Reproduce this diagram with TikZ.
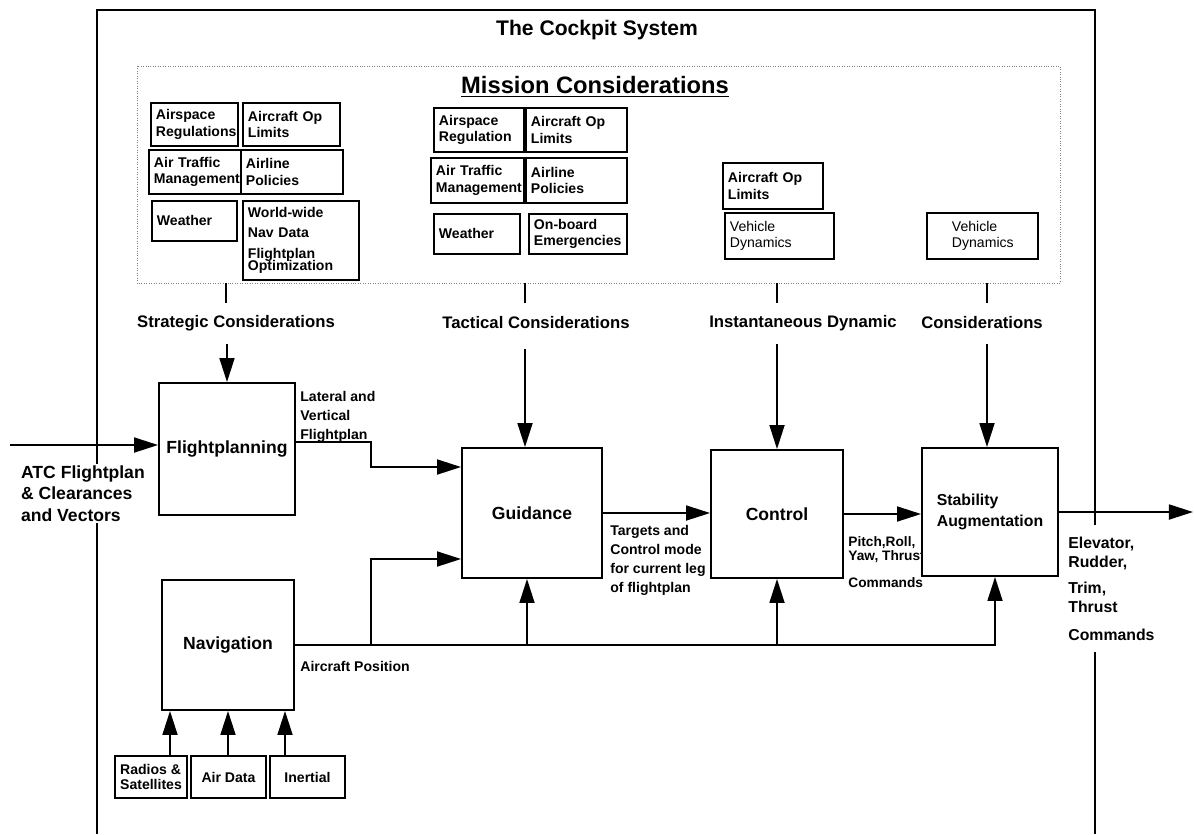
\documentclass[tikz,border=0pt]{standalone}
\usepackage{fontspec}
\setmainfont{Liberation Sans}
\usetikzlibrary{arrows.meta}

\begin{document}
\begin{tikzpicture}[
   blk/.style={draw, fill=white, line width=1.1pt, align=center, font=\bfseries\fontsize{10}{12}\selectfont},
   mcon/.style={draw, fill=white, line width=1.1pt, align=left, anchor=north west, inner xsep=0.1cm, inner ysep=0pt, font=\bfseries\fontsize{8}{9.5}\selectfont},
   sens/.style={draw, line width=1.1pt, minimum width=1.5cm, minimum height=0.84cm, inner xsep=0.05cm, font=\bfseries\fontsize{8}{9}\selectfont},
   lbl/.style={font=\bfseries\fontsize{9.5}{11}\selectfont},
   note/.style={align=left, anchor=north west, inner sep=0pt, font=\bfseries\fontsize{8}{10.8}\selectfont},
   arr/.style={line width=1pt, -{Triangle[length=0.48cm,width=0.3cm]}},
   wire/.style={line width=1pt}]
   \useasboundingbox (0,0) rectangle (23.88,-16.68);
   % outer frame
   \draw[wire] (1.94,-16.68) -- (1.94,-0.2) -- (21.9,-0.2) -- (21.9,-10.5);
   \draw[wire] (21.9,-13.04) -- (21.9,-16.68);
   \node[font=\bfseries\fontsize{12}{14}\selectfont] (title) at (11.94,-0.6) {The Cockpit System};
   % mission considerations
   \draw[gray, densely dotted] (2.74,-1.32) rectangle (21.2,-5.66);
   \node[font=\bfseries\fontsize{13.5}{16}\selectfont] (mission) at (11.9,-1.74) {\underline{Mission Considerations}};
   % strategic group
   \node[mcon, text width=1.54cm, minimum height=0.86cm] (sAirspace) at (3.0,-2.04) {Airspace\\Regulations};
   \node[mcon, text width=1.74cm, minimum height=0.86cm] (sOpLimits) at (4.84,-2.04) {Aircraft Op\\Limits};
   \node[mcon, text width=1.64cm, minimum height=0.88cm] (sTraffic) at (2.96,-2.98) {Air Traffic\\Management};
   \node[mcon, text width=1.84cm, minimum height=0.88cm] (sAirline) at (4.8,-2.98) {Airline\\Policies};
   \node[mcon, text width=1.5cm, minimum height=0.8cm] (sWeather) at (3.02,-4.0) {Weather};
   \node[mcon, text width=2.12cm, minimum height=1.58cm] (sNavData) at (4.84,-4.0) {World-wide\\[1.5pt]Nav Data\\[2.5pt]Flightplan\\[-2.5pt]Optimization};
   % tactical group
   \node[mcon, text width=1.6cm, minimum height=0.88cm] (tAirspace) at (8.66,-2.14) {Airspace\\Regulation};
   \node[mcon, text width=1.82cm, minimum height=0.88cm] (tOpLimits) at (10.5,-2.14) {Aircraft Op\\Limits};
   \node[mcon, text width=1.66cm, minimum height=0.9cm] (tTraffic) at (8.6,-3.14) {Air Traffic\\Management};
   \node[mcon, text width=1.82cm, minimum height=0.9cm] (tAirline) at (10.5,-3.14) {Airline\\Policies};
   \node[mcon, text width=1.52cm, minimum height=0.8cm] (tWeather) at (8.66,-4.26) {Weather};
   \node[mcon, text width=1.76cm, minimum height=0.8cm] (tEmergency) at (10.56,-4.26) {On-board\\Emergencies};
   % dynamic group
   \node[mcon, text width=1.8cm, minimum height=0.92cm] (dOpLimits) at (14.44,-3.24) {Aircraft Op\\Limits};
   \node[mcon, text width=1.98cm, minimum height=0.92cm, font=\fontsize{8}{9.5}\selectfont] (dVehicle) at (14.48,-4.24) {Vehicle\\Dynamics};
   \node[mcon, inner xsep=0.5cm, text width=1.22cm, minimum height=0.92cm, font=\fontsize{8}{9.5}\selectfont] (aVehicle) at (18.52,-4.24) {Vehicle\\Dynamics};
   % ticks under the box
   \foreach \x in {4.52,10.5,15.54,19.74}
   \draw[line width=1.2pt] (\x,-5.66) -- (\x,-6.06);
   \node[lbl] (strat) at (4.72,-6.46) {Strategic Considerations};
   \node[lbl] (tact) at (10.72,-6.46) {Tactical Considerations};
   \node[lbl] (inst) at (16.06,-6.46) {Instantaneous Dynamic};
   \node[lbl] (cons) at (19.64,-6.46) {Considerations};
   % main blocks
   \node[blk, minimum width=2.72cm, minimum height=2.64cm] (fp) at (4.54,-8.98) {Flightplanning};
   \node[blk, minimum width=2.8cm, minimum height=2.6cm] (guid) at (10.64,-10.26) {Guidance};
   \node[blk, minimum width=2.64cm, minimum height=2.56cm] (ctrl) at (15.54,-10.28) {Control};
   \node[note, font=\bfseries\fontsize{7.8}{6.5}\selectfont] (cmdtxt) at (16.96,-10.72) {Pitch,Roll,\\Yaw, Thrust\\[7.5pt]Commands};
   \node[blk, align=left, minimum width=2.72cm, minimum height=2.56cm, font=\bfseries\fontsize{9}{11.5}\selectfont] (stab) at (19.8,-10.24) {Stability\\Augmentation};
   \node[blk, minimum width=2.64cm, minimum height=2.6cm] (nav) at (4.56,-12.9) {Navigation};
   \node[sens, minimum width=1.44cm, align=left] (radio) at (3.02,-15.54) {Radios \&\\Satellites};
   \node[sens] (adata) at (4.57,-15.54) {Air Data};
   \node[sens] (iner) at (6.15,-15.54) {Inertial};
   % texts on the lines
   \node[note, fill=white, inner sep=1pt, font=\bfseries\fontsize{10}{12}\selectfont] (atc) at (0.38,-9.28) {ATC Flightplan\\\& Clearances\\and Vectors};
   \node[note] (latvert) at (6.0,-7.82) {Lateral and\\Vertical\\Flightplan};
   \node[note] (targets) at (12.2,-10.5) {Targets and\\Control mode\\for current leg\\of flightplan};
   \node[note, anchor=west] (acpos) at (6.0,-13.32) {Aircraft Position};
   \node[note, font=\bfseries\fontsize{9}{10.8}\selectfont] (outtxt) at (21.36,-10.74) {Elevator,\\Rudder,\\[4pt]Trim,\\Thrust\\[5pt]Commands};
   % considerations down
   \draw[arr] (fp.north) ++(0,0.76) -- (fp.north);
   \draw[arr] ([xshift=-0.14cm]guid.north) ++(0,1.96) -- ([xshift=-0.14cm]guid.north);
   \draw[arr] (ctrl.north) ++(0,2.1) -- (ctrl.north);
   \draw[arr] ([xshift=-0.06cm]stab.north) ++(0,2.06) -- ([xshift=-0.06cm]stab.north);
   % flow
   \draw[arr] (0.2,-8.9) -- (fp.west |- 0,-8.9);
   \draw[arr] ([yshift=0.14cm]fp.east) -- ++(1.5,0) |- ([yshift=0.92cm]guid.west);
   \draw[arr] (guid.east) -- (guid.east -| ctrl.west);
   \draw[arr] (ctrl.east) -- (ctrl.east -| stab.west);
   \draw[arr] (stab.east) -- ++(2.68,0);
   % aircraft position bus
   \draw[arr] (nav.east) -| ([xshift=0.1cm]stab.south);
   \draw[arr] (nav.east -| ctrl.south) -- (ctrl.south);
   \draw[arr] (nav.east -| 10.54,0) -- ([xshift=-0.1cm]guid.south);
   \draw[arr] (nav.east -| 7.42,0) |- ([yshift=-0.92cm]guid.west);
   % sensors up
   \foreach \x/\s in {3.4/radio,4.56/adata,5.7/iner}
   \draw[arr] (\s.north -| \x,0) -- (nav.south -| \x,0);
\end{tikzpicture}
\end{document}
